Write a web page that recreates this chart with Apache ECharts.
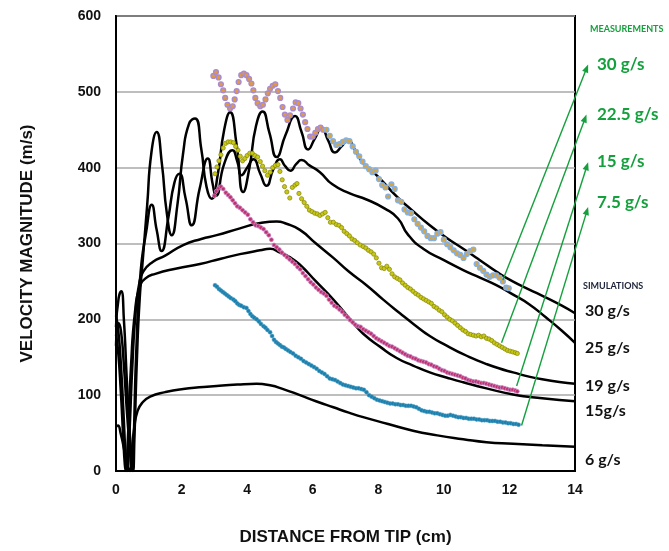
<!DOCTYPE html>
<html>
<head>
<meta charset="utf-8">
<script src="https://cdn.jsdelivr.net/npm/echarts@6/dist/echarts.min.js"></script>
<style>
  html, body { margin: 0; padding: 0; background: #fff; }
  #main { width: 669px; height: 551px; }
</style>
</head>
<body>
<div id="main"></div>
<script>
// Axis ticks
const xTicks = [0, 2, 4, 6, 8, 10, 12, 14];
const yTicks = [0, 100, 200, 300, 400, 500, 600];

// Simulated velocity magnitude (m/s) vs distance from tip (cm)
const sim30 = [[0,190],[0.08,228],[0.16,237],[0.24,200],[0.33,120],[0.42,50],[0.49,8],[0.52,0],[0.56,40],[0.64,150],[0.72,225],[0.82,280],[0.95,350],[1.08,420],[1.24,447],[1.4,405],[1.55,340],[1.7,311],[1.87,350],[2.05,420],[2.23,458],[2.41,465],[2.6,425],[2.76,375],[2.92,359],[3.1,390],[3.3,450],[3.48,473],[3.68,430],[3.88,368],[4.07,400],[4.27,455],[4.47,474],[4.68,446],[4.9,414],[5.17,443],[5.46,468],[5.66,447],[5.86,424],[6.06,438],[6.27,452],[6.47,436],[6.68,420],[6.88,428],[7.08,436],[7.28,424],[7.54,406],[8.0,388],[8.56,362],[9.0,345],[9.57,324],[10.1,307],[10.59,293],[11.1,278],[11.6,263],[12.1,250],[12.62,239],[13.1,229],[13.6,218],[14,208]];
const sim25 = [[0,165],[0.08,195],[0.15,185],[0.24,140],[0.33,80],[0.42,30],[0.47,5],[0.5,0],[0.54,40],[0.62,160],[0.75,262],[0.92,315],[1.09,351],[1.24,318],[1.39,290],[1.6,335],[1.78,380],[1.93,392],[2.12,360],[2.31,324],[2.55,372],[2.8,412],[2.95,378],[3.05,363],[3.3,405],[3.55,423],[3.7,408],[3.83,390],[4.0,400],[4.19,411],[4.4,392],[4.59,376],[4.8,398],[5.0,411],[5.16,402],[5.32,396],[5.5,405],[5.66,410],[5.9,403],[6.22,394],[6.6,378],[7.13,366],[7.64,358],[8.2,346],[8.6,333],[8.9,312],[9.37,293],[10.0,278],[10.59,265],[11.1,255],[11.6,245],[12.1,233],[12.6,220],[13.1,203],[13.6,185],[14,169]];
const sim19 = [[0,205],[0.07,185],[0.15,140],[0.23,75],[0.3,15],[0.34,0],[0.4,40],[0.5,140],[0.6,210],[0.7,245],[0.83,263],[1.13,276],[1.5,284],[2.05,298],[2.6,306],[3.07,311],[3.78,320],[4.4,327],[4.9,329],[5.2,326],[5.61,318],[6.1,300],[6.63,281],[7.1,263],[7.64,245],[8.15,226],[8.66,208],[9.1,193],[9.57,178],[10.1,165],[10.59,154],[11.3,141],[12.11,130],[13,121],[14,115]];
const sim15 = [[0,180],[0.06,160],[0.14,110],[0.22,45],[0.27,8],[0.3,0],[0.36,40],[0.46,140],[0.58,210],[0.72,242],[0.9,254],[1.2,260],[1.85,267],[2.56,273],[3.2,280],[3.78,286],[4.39,291],[4.7,293],[5.0,288],[5.3,282],[5.61,272],[6.1,250],[6.63,226],[7.24,195],[7.54,181],[8.05,164],[8.56,149],[9.06,139],[9.57,130],[10.1,123],[10.59,117],[11.3,109],[12.11,101],[13,96],[14,92]];
const sim6 = [[0,58],[0.06,60],[0.14,50],[0.24,30],[0.33,10],[0.4,1],[0.43,0],[0.48,25],[0.56,58],[0.65,78],[0.8,90],[1.04,98],[1.5,104],[2.05,108],[3.07,112],[3.7,114],[4.29,115],[4.7,113],[5.1,108],[5.61,100],[6.1,92],[6.63,84],[7.1,77],[7.54,71],[8.3,62],[9.06,53],[9.8,47],[10.59,42],[11.3,38],[12.11,36],[13,34],[14,32]];

// Measured velocity magnitude
const meas30near = [[2.97,521],[3.05,526],[3.13,519],[3.2,510],[3.27,502],[3.33,492],[3.4,483],[3.48,478],[3.56,481],[3.62,490],[3.68,501],[3.74,513],[3.82,522],[3.9,524],[3.98,522],[4.06,517],[4.13,511],[4.19,502],[4.25,492],[4.32,485],[4.4,481],[4.48,483],[4.56,490],[4.63,498],[4.7,504],[4.78,508],[4.86,510],[4.94,501],[5.01,492],[5.08,480],[5.15,470],[5.23,463],[5.31,469],[5.4,478],[5.48,486],[5.56,485],[5.63,478],[5.7,470],[5.77,460],[5.84,451],[5.92,441],[6.0,441],[6.08,446],[6.16,451],[6.24,453],[6.32,450]];
const meas30far = [[6.42,450],[6.52,442],[6.62,435],[6.72,430],[6.82,431],[6.92,434],[7.02,436],[7.12,435],[7.22,428],[7.32,421],[7.42,415],[7.52,408],[7.62,402],[7.72,398],[7.82,394],[7.92,396],[8.02,385],[8.12,377],[8.22,374],[8.3,362],[8.4,378],[8.5,372],[8.6,357],[8.7,355],[8.8,345],[8.9,341],[9.0,340],[9.1,332],[9.2,326],[9.3,321],[9.4,316],[9.5,310],[9.6,307],[9.7,307],[9.8,313],[9.9,315],[10.0,305],[10.1,299],[10.2,295],[10.3,291],[10.4,287],[10.5,285],[10.6,281],[10.7,286],[10.8,290],[10.9,292],[11.0,273],[11.1,268],[11.2,264],[11.3,259],[11.4,256],[11.5,258],[11.6,258],[11.7,255],[11.8,250],[11.9,242],[11.98,241]];
const meas22 = [[3.02,392],[3.08,401],[3.14,409],[3.2,417],[3.27,426],[3.34,432],[3.42,434],[3.5,434],[3.58,433],[3.65,428],[3.72,423],[3.79,415],[3.86,409],[3.93,412],[4.0,416],[4.08,419],[4.16,419],[4.24,416],[4.32,414],[4.4,408],[4.47,402],[4.54,396],[4.62,390],[4.7,394],[4.78,400],[4.86,403],[4.94,404],[5.0,395],[5.07,384],[5.14,375],[5.21,368],[5.3,360],[5.38,374],[5.46,377],[5.52,379],[5.58,366],[5.66,359],[5.74,354],[5.82,349],[5.9,344],[5.98,342],[6.06,340],[6.14,339],[6.22,337],[6.3,339],[6.38,341],[6.46,334],[6.54,328],[6.63,328],[6.72,325],[6.8,324],[6.88,321],[6.96,316],[7.04,313],[7.12,310],[7.2,306],[7.28,304],[7.36,301],[7.45,298],[7.54,296],[7.62,294],[7.7,291],[7.78,289],[7.86,286],[7.94,281],[8.02,274],[8.1,268],[8.18,267],[8.26,270],[8.34,266],[8.42,260],[8.5,256],[8.58,254],[8.66,252],[8.74,248],[8.82,245],[8.9,242],[8.98,240],[9.06,237],[9.14,234],[9.22,232],[9.3,229],[9.38,227],[9.46,225],[9.54,223],[9.62,221],[9.7,217],[9.78,215],[9.86,212],[9.94,210],[10.02,206],[10.1,203],[10.18,200],[10.26,198],[10.34,195],[10.42,192],[10.5,189],[10.58,186],[10.66,184],[10.74,181],[10.82,180],[10.9,179],[10.98,178],[11.06,179],[11.14,177],[11.22,178],[11.3,175],[11.38,174],[11.46,172],[11.54,169],[11.62,167],[11.7,165],[11.78,163],[11.86,161],[11.94,159],[12.02,158],[12.1,157],[12.18,156],[12.24,155]];
const meas15 = [[3.0,363],[3.06,369],[3.13,373],[3.2,375],[3.27,372],[3.35,367],[3.42,364],[3.49,361],[3.56,357],[3.63,353],[3.7,349],[3.78,347],[3.86,344],[3.94,341],[4.02,338],[4.1,332],[4.18,328],[4.26,324],[4.34,323],[4.42,321],[4.5,319],[4.58,315],[4.66,311],[4.74,305],[4.82,298],[4.9,295],[4.98,292],[5.06,288],[5.14,285],[5.22,282],[5.3,279],[5.38,276],[5.46,273],[5.54,269],[5.62,266],[5.7,261],[5.78,257],[5.86,253],[5.94,249],[6.02,246],[6.1,242],[6.18,239],[6.26,236],[6.34,234],[6.42,231],[6.5,226],[6.58,222],[6.66,218],[6.74,216],[6.82,213],[6.9,210],[6.98,206],[7.06,203],[7.14,199],[7.22,196],[7.3,193],[7.38,191],[7.46,190],[7.54,187],[7.62,185],[7.7,183],[7.78,181],[7.86,178],[7.94,175],[8.02,173],[8.1,171],[8.18,169],[8.26,167],[8.34,165],[8.42,164],[8.5,162],[8.58,160],[8.66,158],[8.74,156],[8.82,154],[8.9,152],[8.98,151],[9.06,149],[9.14,148],[9.22,146],[9.3,145],[9.38,144],[9.46,143],[9.54,141],[9.62,140],[9.7,138],[9.78,137],[9.86,135],[9.94,133],[10.02,132],[10.1,130],[10.18,129],[10.26,128],[10.34,127],[10.42,126],[10.5,125],[10.58,123],[10.66,122],[10.74,120],[10.82,119],[10.9,118],[10.98,118],[11.06,117],[11.14,116],[11.22,116],[11.3,115],[11.38,114],[11.46,113],[11.54,112],[11.62,111],[11.7,110],[11.78,110],[11.86,109],[11.94,108],[12.02,107],[12.1,107],[12.18,106],[12.24,105]];
const meas7 = [[3.02,245],[3.08,243],[3.14,240],[3.2,238],[3.26,236],[3.32,234],[3.38,232],[3.44,230],[3.5,228],[3.58,226],[3.64,224],[3.7,221],[3.76,219],[3.82,218],[3.9,216],[3.98,215],[4.04,211],[4.1,207],[4.16,204],[4.22,202],[4.29,200],[4.36,197],[4.42,194],[4.5,191],[4.56,189],[4.62,186],[4.7,183],[4.76,178],[4.82,173],[4.88,170],[4.94,168],[5.0,166],[5.06,164],[5.12,163],[5.18,161],[5.25,159],[5.32,157],[5.4,155],[5.48,152],[5.56,150],[5.64,148],[5.72,145],[5.8,143],[5.88,141],[5.96,139],[6.04,137],[6.12,135],[6.2,132],[6.28,130],[6.36,128],[6.44,125],[6.52,122],[6.6,121],[6.68,120],[6.76,118],[6.84,116],[6.92,114],[7.0,113],[7.08,112],[7.16,111],[7.24,110],[7.32,109],[7.4,109],[7.48,108],[7.56,107],[7.64,104],[7.72,100],[7.8,98],[7.88,96],[7.96,94],[8.04,93],[8.12,92],[8.2,91],[8.28,90],[8.36,89],[8.44,89],[8.52,88],[8.6,88],[8.68,87],[8.76,87],[8.84,86],[8.92,86],[9.0,86],[9.08,85],[9.16,84],[9.24,82],[9.32,80],[9.4,79],[9.48,78],[9.56,78],[9.64,77],[9.72,76],[9.8,76],[9.88,75],[9.96,74],[10.04,73],[10.12,73],[10.2,74],[10.28,73],[10.36,72],[10.44,71],[10.52,71],[10.6,70],[10.68,70],[10.76,69],[10.84,69],[10.92,69],[11.0,68],[11.08,68],[11.16,67],[11.24,67],[11.32,67],[11.4,66],[11.48,66],[11.56,66],[11.64,65],[11.72,65],[11.8,64],[11.88,64],[11.96,63],[12.04,63],[12.12,62],[12.2,62],[12.28,61]];

// Legend texts
const measLabels = ['30 g/s', '22.5 g/s', '15 g/s', '7.5 g/s'];
const simLabels = ['30 g/s', '25 g/s', '19 g/s', '15g/s', '6 g/s'];

const GREEN = '#14a03c';
const AXIS_FONT = '"Liberation Sans", Arial, sans-serif';
const NOTE_FONT = 'Lato, "Open Sans", sans-serif';

const chart = echarts.init(document.getElementById('main'), null, { renderer: 'canvas' });

function simSeries(data) {
  return {
    type: 'line', data: data, smooth: 0.55, showSymbol: false, z: 3,
    lineStyle: { color: '#000', width: 2.5 }, silent: true, animation: false
  };
}
function measSeries(data, fill, border, size, bw) {
  return {
    type: 'scatter', data: data, symbol: 'circle', symbolSize: size, z: 4,
    itemStyle: { color: fill, borderColor: border, borderWidth: bw, opacity: 1 },
    silent: true, animation: false
  };
}

chart.setOption({
  animation: false,
  backgroundColor: '#fff',
  grid: { left: 116, right: 94, top: 16, bottom: 77, show: true, borderColor: '#000', borderWidth: 2, backgroundColor: 'transparent' },
  xAxis: {
    type: 'value', min: xTicks[0], max: xTicks[xTicks.length - 1], interval: 2,
    axisLine: { show: true, lineStyle: { color: '#000', width: 2 } },
    axisTick: { show: false }, splitLine: { show: false },
    axisLabel: { fontFamily: AXIS_FONT, fontWeight: 'bold', fontSize: 14, color: '#111', margin: 12 },
    name: 'DISTANCE FROM TIP (cm)', nameLocation: 'middle', nameGap: 58,
    nameTextStyle: { fontFamily: AXIS_FONT, fontWeight: 'bold', fontSize: 17, color: '#111' }
  },
  yAxis: {
    type: 'value', min: yTicks[0], max: yTicks[yTicks.length - 1], interval: 100,
    axisLine: { show: true, lineStyle: { color: '#000', width: 2 } },
    axisTick: { show: false },
    splitLine: { show: true, lineStyle: { color: '#a8a8a8', width: 1.5 } },
    axisLabel: { fontFamily: AXIS_FONT, fontWeight: 'bold', fontSize: 14, color: '#111', margin: 15 },
    name: 'VELOCITY MAGNITUDE (m/s)', nameLocation: 'middle', nameGap: 80, nameRotate: 90,
    nameTextStyle: { fontFamily: AXIS_FONT, fontWeight: 'bold', fontSize: 17, color: '#111' }
  },
  series: [
    simSeries(sim30), simSeries(sim25), simSeries(sim19), simSeries(sim15), simSeries(sim6),
    measSeries(meas7, '#1b7fac', '#4a9cc4', 4, 0.5),
    measSeries(meas15, '#c2306c', '#c486c8', 4, 0.8),
    measSeries(meas22, '#c9c914', '#8c8c10', 4.2, 0.8),
    measSeries(meas30near, '#e39a3c', '#a98bd0', 4.8, 1.4),
    measSeries(meas30far, '#d9a53c', '#86b0e0', 4.8, 1.4)
  ]
});

// Arrows linking each measured curve to its label (data units)
const arrowLinks = [
  { from: [11.8, 252], to: [14.4, 536] },
  { from: [11.76, 169], to: [14.35, 470] },
  { from: [12.22, 112], to: [14.4, 407] },
  { from: [12.37, 60], to: [14.4, 348] }
];

const graphics = [];
arrowLinks.forEach(function (a) {
  const p0 = chart.convertToPixel({ gridIndex: 0 }, a.from);
  const p1 = chart.convertToPixel({ gridIndex: 0 }, a.to);
  const dx = p1[0] - p0[0], dy = p1[1] - p0[1];
  const len = Math.sqrt(dx * dx + dy * dy);
  const ux = dx / len, uy = dy / len;
  const nx = -uy, ny = ux;
  const L = 8, W = 3.2;
  const bx = p1[0] - ux * L, by = p1[1] - uy * L;
  graphics.push({
    type: 'line', z: 10, silent: true,
    shape: { x1: p0[0], y1: p0[1], x2: bx + ux * 2, y2: by + uy * 2 },
    style: { stroke: GREEN, lineWidth: 1.4 }
  });
  graphics.push({
    type: 'polygon', z: 10, silent: true,
    shape: { points: [[p1[0], p1[1]], [bx + nx * W, by + ny * W], [bx - nx * W, by - ny * W]] },
    style: { fill: GREEN }
  });
});

graphics.push({ type: 'text', left: 590, top: 25, silent: true,
  style: { text: 'MEASUREMENTS', fill: GREEN, font: 'bold 9px ' + NOTE_FONT } });
const measTops = [56, 106, 153, 194];
measLabels.forEach(function (t, i) {
  graphics.push({ type: 'text', left: 597, top: measTops[i], silent: true,
    style: { text: t, fill: GREEN, font: 'bold 17px ' + NOTE_FONT } });
});
graphics.push({ type: 'text', left: 583, top: 282, silent: true,
  style: { text: 'SIMULATIONS', fill: '#1c2238', font: 'bold 9px ' + NOTE_FONT } });
const simTops = [303, 340, 378, 403, 452];
simLabels.forEach(function (t, i) {
  graphics.push({ type: 'text', left: 585, top: simTops[i], silent: true,
    style: { text: t, fill: '#111', font: 'bold 16px ' + NOTE_FONT } });
});

chart.setOption({ graphic: graphics });
</script>
</body>
</html>
